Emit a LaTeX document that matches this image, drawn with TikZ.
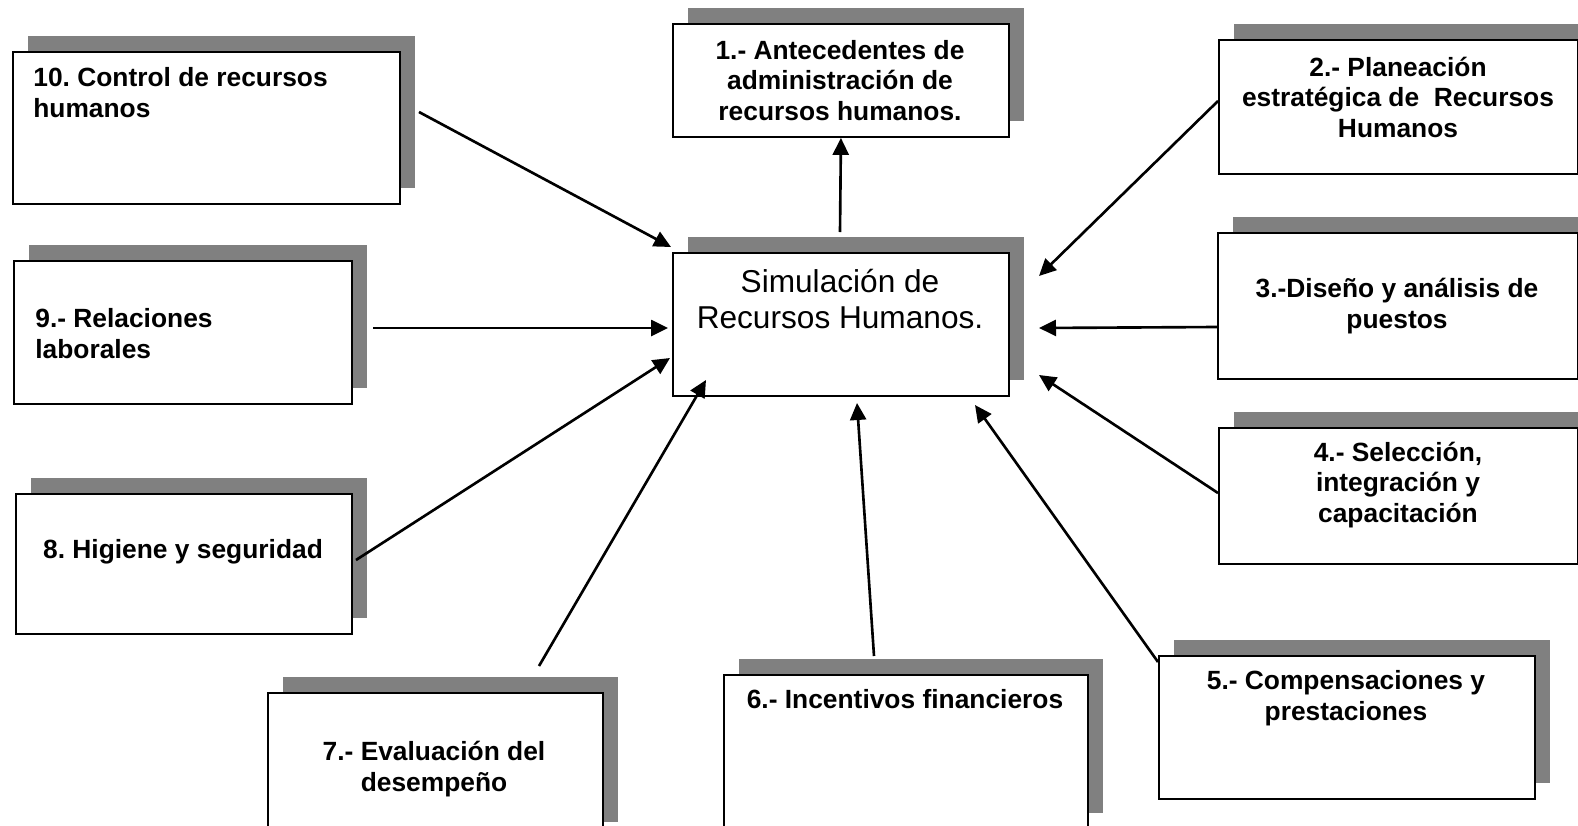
\documentclass[tikz,border=0pt]{standalone}
\usepackage{fontspec}
\setmainfont{Liberation Sans}
\usetikzlibrary{shadows,arrows.meta}
\definecolor{sombra}{gray}{0.5}
\frenchspacing

\begin{document}
\begin{tikzpicture}[x=0.02cm, y=-0.02cm,
    caja/.style={draw, line width=1.1pt, fill=white, inner sep=0pt, anchor=north west,
      drop shadow={shadow xshift=0.31cm, shadow yshift=0.32cm, fill=sombra, opacity=1}},
    texto/.style={font=\fontsize{15}{17.3}\selectfont\bfseries, inner sep=0pt, align=center, anchor=base},
    flecha/.style={line width=1.5pt, -{Triangle[length=0.34cm, width=0.32cm]}}]
  \useasboundingbox (0,0) rectangle (1578,825);
  \clip (0,0) rectangle (1578,825);

  % cajas
  \node[caja, minimum width=6.72cm, minimum height=2.86cm] (sim) at (672,252) {};
  \node[caja, minimum width=6.72cm, minimum height=2.26cm] (b1) at (672,23) {};
  \node[caja, minimum width=7.18cm, minimum height=2.68cm] (b2) at (1218,39) {};
  \node[caja, minimum width=7.20cm, minimum height=2.92cm] (b3) at (1217,232) {};
  \node[caja, minimum width=7.18cm, minimum height=2.72cm] (b4) at (1218,427) {};
  \node[caja, minimum width=7.52cm, minimum height=2.86cm] (b5) at (1158,655) {};
  \node[caja, minimum width=7.28cm, minimum height=3.08cm] (b6) at (723,674) {};
  \node[caja, minimum width=6.70cm, minimum height=2.90cm] (b7) at (267,692) {};
  \node[caja, minimum width=6.72cm, minimum height=2.80cm] (b8) at (15,493) {};
  \node[caja, minimum width=6.76cm, minimum height=2.86cm] (b9) at (13,260) {};
  \node[caja, minimum width=7.74cm, minimum height=3.04cm] (b10) at (12,51) {};

  % textos (base = ultima linea)
  \node[texto, font=\fontsize{18}{20.4}\selectfont] (tsim) at (840,328) {Simulación de\\Recursos Humanos.};
  \node[texto] (t1) at (840,120) {1.- Antecedentes de\\administración de\\recursos humanos.};
  \node[texto] (t2) at (1398,137) {2.- Planeación\\estratégica de~ Recursos\\Humanos};
  \node[texto] (t3) at (1397,328) {3.-Diseño y análisis de\\puestos};
  \node[texto] (t4) at (1398,522) {4.- Selección,\\integración y\\capacitación};
  \node[texto] (t5) at (1346,720) {5.- Compensaciones y\\prestaciones};
  \node[texto] (t6) at (905,708) {6.- Incentivos financieros};
  \node[texto] (t7) at (434,791) {7.- Evaluación del\\desempeño};
  \node[texto] (t8) at (183,558) {8. Higiene y seguridad};
  \node[texto, align=left, anchor=base west] (t9) at (35,358) {9.- Relaciones\\laborales};
  \node[texto, align=left, anchor=base west] (t10) at (33,117) {10. Control de recursos\\humanos};

  % flechas
  \coordinate (s1) at (840,232);
  \draw[flecha] (s1) -- (b1.south);
  \coordinate (s2) at (1218,101);  \coordinate (p2) at (1039,276);
  \coordinate (s3) at (1217,327);  \coordinate (p3) at (1039,328);
  \coordinate (s4) at (1218,493);  \coordinate (p4) at (1039,375);
  \coordinate (s5) at (1158,662);  \coordinate (p5) at (975,405);
  \coordinate (s6) at (874,656);   \coordinate (p6) at (857,403);
  \coordinate (s7) at (539,666);   \coordinate (p7) at (706,380);
  \coordinate (s8) at (356,560);   \coordinate (p8) at (670,358);
  \coordinate (s9) at (373,328);   \coordinate (p9) at (668,328);
  \coordinate (s10) at (419,112);  \coordinate (p10) at (671,247);
  \foreach \i in {2,...,10}
    \draw[flecha] (s\i) -- (p\i);
\end{tikzpicture}
\end{document}
